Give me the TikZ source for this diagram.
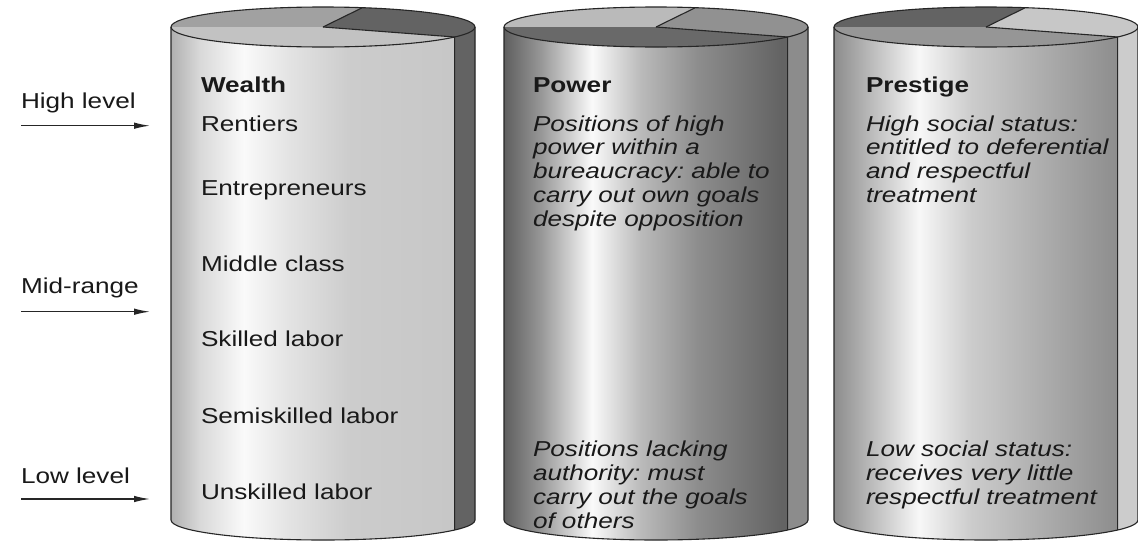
\documentclass[tikz,border=0pt]{standalone}
\usepackage{fontspec}
\setmainfont{Liberation Sans}[FakeStretch=1.21]
\usetikzlibrary{arrows.meta}
\frenchspacing
\pgfdeclarehorizontalshading{sideA}{100bp}{color(0bp)=(white!69!black); color(25bp)=(white!69!black); color(29.75bp)=(white!85!black); color(37bp)=(white!98!black); color(44.5bp)=(white!89!black); color(54.5bp)=(white!80!black); color(71.5bp)=(white!78!black); color(75bp)=(white!78!black); color(100bp)=(white!78!black)}
\pgfdeclarehorizontalshading{sideB}{100bp}{color(0bp)=(white!37!black); color(25bp)=(white!37!black); color(31bp)=(white!59!black); color(39.5bp)=(white!98!black); color(47.5bp)=(white!73!black); color(57bp)=(white!55!black); color(70.5bp)=(white!39!black); color(75bp)=(white!39!black); color(100bp)=(white!39!black)}
\pgfdeclarehorizontalshading{sideC}{100bp}{color(0bp)=(white!55!black); color(25bp)=(white!55!black); color(31bp)=(white!73!black); color(39bp)=(white!97!black); color(47.5bp)=(white!80!black); color(62bp)=(white!65!black); color(72bp)=(white!55!black); color(75bp)=(white!55!black); color(100bp)=(white!55!black)}
\begin{document}
\begin{tikzpicture}[x=1pt,y=1pt,
  outl/.style={draw=black!85, line width=1.1pt, line join=round},
  txt/.style={anchor=base west, inner sep=0pt, outer sep=0pt, text=black!90,
    font=\fontsize{21.6}{23.9}\selectfont, text width=320pt, align=left},
  arr/.style={draw=black!85, line width=1.3pt, -{Latex[length=16pt,width=6.5pt]}}]
\useasboundingbox (0,0) rectangle (1138,-541);
\fill[white] (0,0) rectangle (1138,-541);
\foreach \cx/\sh/\cb/\cf/\cw/\cs in {323/sideA/63/76/39/39, 656/sideB/73/41/57/55, 986/sideC/39/59/78/80} {
  \shade[shading=\sh] (\cx-152,-27) -- (\cx-152,-520)
    arc[start angle=180,end angle=360,x radius=152,y radius=20]
    -- (\cx+152,-27) arc[start angle=0,end angle=-180,x radius=152,y radius=20] -- cycle;
  \fill[white!\cs!black] (\cx+152,-27) arc[start angle=0,end angle=-30,x radius=152,y radius=20]
    -- ++(0,-493) arc[start angle=-30,end angle=0,x radius=152,y radius=20] -- cycle;
  \fill[white!\cb!black] (\cx,-27) -- (\cx-152,-27)
    arc[start angle=180,end angle=75,x radius=152,y radius=20] -- cycle;
  \fill[white!\cw!black] (\cx,-27) -- ++(75:152 and 20)
    arc[start angle=75,end angle=-30,x radius=152,y radius=20] -- cycle;
  \fill[white!\cf!black] (\cx,-27) -- ++(-30:152 and 20)
    arc[start angle=-30,end angle=-180,x radius=152,y radius=20] -- cycle;
  \draw[outl] (\cx-152,-27) -- (\cx-152,-520)
    arc[start angle=180,end angle=360,x radius=152,y radius=20] -- (\cx+152,-27);
  \draw[outl] (\cx,-27) ellipse[x radius=152,y radius=20];
  \draw[outl] (\cx,-27) -- ++(75:152 and 20);
  \draw[outl] (\cx,-27) -- ++(-30:152 and 20) -- ++(0,-493);
}
% left labels and arrows
\node[txt] (lhigh) at (21,-108) {High level};
\node[txt] (lmid) at (21,-293) {Mid-range};
\node[txt] (llow) at (21,-483) {Low level};
\coordinate (ahs) at (21,-125.7); \coordinate (ahe) at (150,-125.7);
\coordinate (ams) at (21,-311.7); \coordinate (ame) at (150,-311.7);
\coordinate (als) at (21,-499); \coordinate (ale) at (150,-499);
\draw[arr] (ahs) -- (ahe);
\draw[arr] (ams) -- (ame);
\draw[arr] (als) -- (ale);
% wealth
\node[txt] (wt) at (201,-92.7) {\bfseries Wealth};
\node[txt] (w1) at (201,-131) {Rentiers};
\node[txt] (w2) at (201,-195.7) {Entrepreneurs};
\node[txt] (w3) at (201,-271.7) {Middle class};
\node[txt] (w4) at (201,-346.7) {Skilled labor};
\node[txt] (w5) at (201,-423.3) {Semiskilled labor};
\node[txt] (w6) at (201,-499) {Unskilled labor};
% power
\node[txt] (pt) at (533,-92.7) {\bfseries Power};
\node[txt] (p1) at (533,-131) {\itshape Positions of high\\power within a\\bureaucracy: able to\\carry out own goals\\despite opposition};
\node[txt] (p2) at (533,-456.7) {\itshape Positions lacking\\authority: must\\carry out the goals\\of others};
% prestige
\node[txt] (st) at (866,-92.7) {\bfseries Prestige};
\node[txt] (s1) at (866,-131) {\itshape High social status:\\entitled to deferential\\and respectful\\treatment};
\node[txt] (s2) at (866,-456.7) {\itshape Low social status:\\receives very little\\respectful treatment};
\end{tikzpicture}
\end{document}
